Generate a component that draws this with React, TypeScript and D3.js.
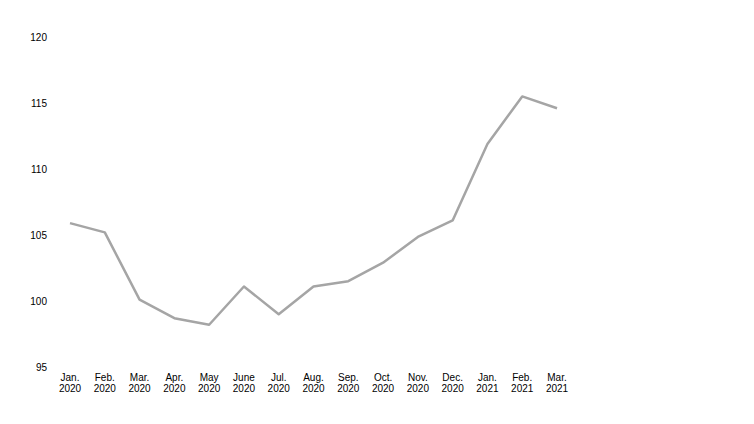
import React from "react";
import * as d3 from "d3";

const months = ["Jan.", "Feb.", "Mar.", "Apr.", "May", "June", "Jul.", "Aug.", "Sep.", "Oct.", "Nov.", "Dec.", "Jan.", "Feb.", "Mar."];
const years = ["2020", "2020", "2020", "2020", "2020", "2020", "2020", "2020", "2020", "2020", "2020", "2020", "2021", "2021", "2021"];
const values = [105.9, 105.2, 100.1, 98.7, 98.2, 101.1, 99.0, 101.1, 101.5, 102.9, 104.85, 106.1, 111.9, 115.5, 114.6];
const yTicks = [95, 100, 105, 110, 115, 120];

export default function App() {
  const W = 754, H = 424;
  const keys = months.map((m, i) => `${m} ${years[i]}`);
  const x = d3.scalePoint<string>().domain(keys).range([70, 557]);
  const y = d3.scaleLinear().domain([95, 120]).range([367, 37]);
  const line = d3.line<number>().x((_, i) => x(keys[i])!).y(d => y(d));
  const font = "'Liberation Sans', Arial, sans-serif";
  return (
    <svg width={W} height={H} style={{ position: "absolute", left: 0, top: 0, background: "#fff" }}>
      <rect width={W} height={H} fill="#fff" />
      {yTicks.map(t => (
        <text key={t} x={47} y={y(t)} dy="0.35em" textAnchor="end" fontFamily={font} fontSize={10} fill="#000">{t}</text>
      ))}
      {keys.map((k, i) => (
        <text key={k} x={x(k)!} textAnchor="middle" fontFamily={font} fontSize={10} fill="#000">
          <tspan x={x(k)!} y={381}>{months[i]}</tspan>
          <tspan x={x(k)!} y={391.5}>{years[i]}</tspan>
        </text>
      ))}
      <path d={line(values)!} fill="none" stroke="#a5a5a5" strokeWidth={2.5} strokeLinejoin="round" />
    </svg>
  );
}
